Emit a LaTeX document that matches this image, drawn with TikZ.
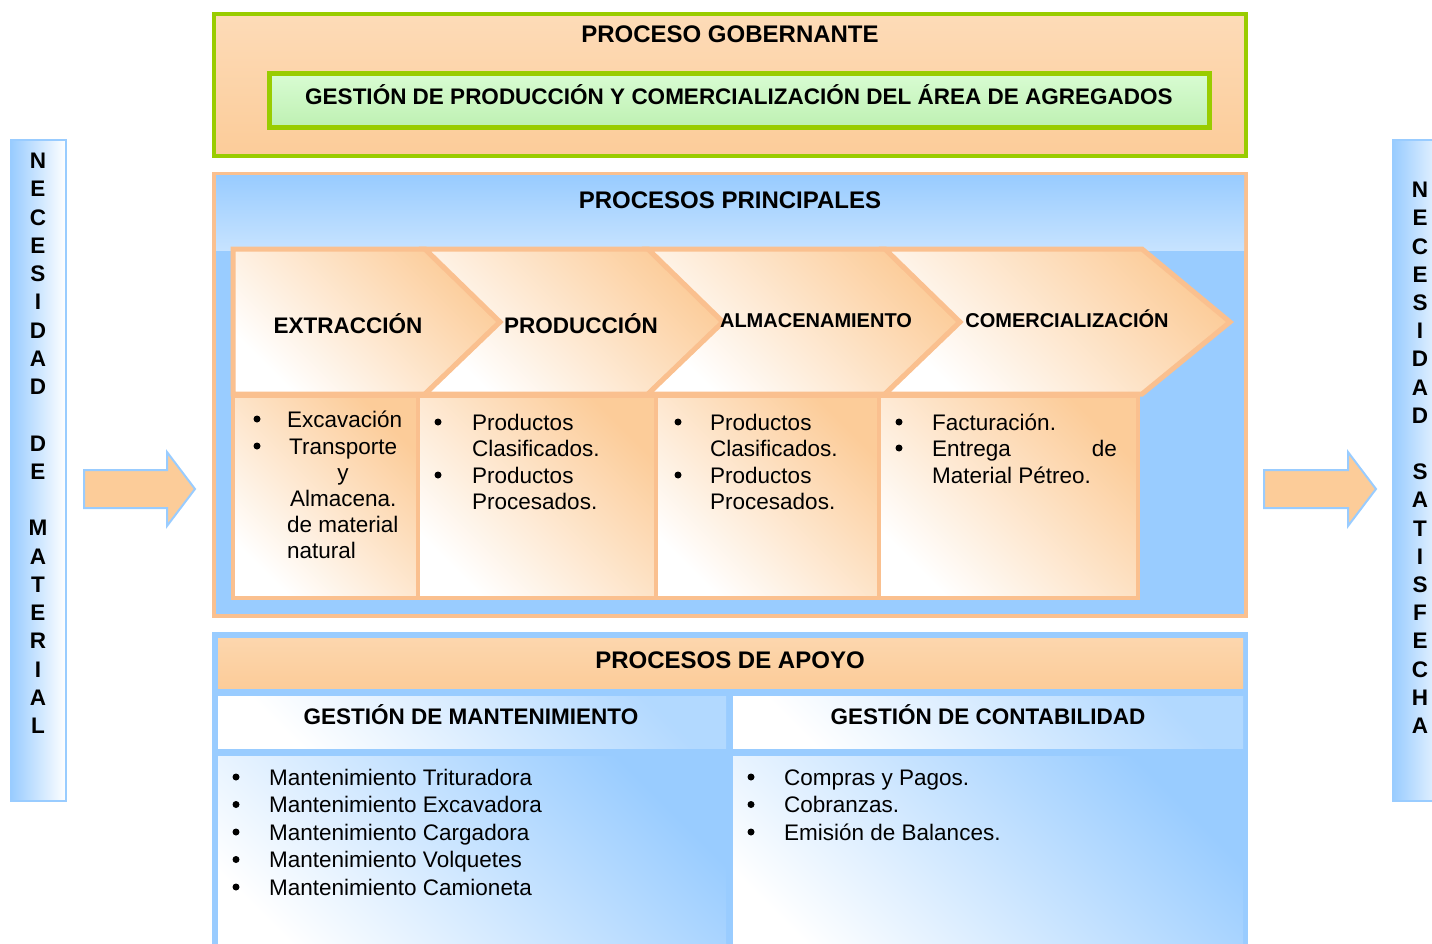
\documentclass[tikz,border=0pt]{standalone}
\usepackage{fontspec}
\setmainfont{Liberation Sans}
\usetikzlibrary{positioning}

\definecolor{naranja}{RGB}{252,204,153}
\definecolor{naranjaB}{RGB}{250,192,143}
\definecolor{celeste}{RGB}{153,204,255}
\definecolor{verde}{RGB}{153,204,0}
\definecolor{verdeA}{RGB}{216,252,210}
\definecolor{verdeB}{RGB}{190,240,178}

\begin{document}
\begin{tikzpicture}[x=1pt, y=-1pt, line join=miter,
    every node/.style={inner sep=0pt},
    cabecera/.style={font=\bfseries\fontsize{24}{28}\selectfont, anchor=base},
    subcab/.style={font=\bfseries\fontsize{22.5}{26}\selectfont, anchor=base},
    texto/.style={font=\fontsize{22.5}{27}\selectfont, anchor=base west},
    vineta/.style={circle, fill=black, minimum size=7pt},
    letra/.style={font=\bfseries\fontsize{22.5}{26}\selectfont},
    naranjado/.style={top color=naranja, bottom color=white, shading angle=-45},
    azulado/.style={top color=celeste, bottom color=white, shading angle=-45},
    flecha/.style={fill=naranja, draw=celeste, line width=2pt}]

  \useasboundingbox (0,0) rectangle (1432,944);
  \clip (0,0) rectangle (1432,944);

  \begin{scope}
    \draw[draw=verde, line width=4pt, top color=naranja!70!white, bottom color=naranja] (214,14) rectangle (1246,156);
    \node[cabecera] (gobernante) at (730,43) {PROCESO GOBERNANTE};
    \draw[draw=verde, line width=5pt, top color=verdeA, bottom color=verdeB] (269,74) rectangle (1209,128);
    \node[subcab] (gestion) at (739,105) {GESTIÓN DE PRODUCCIÓN Y COMERCIALIZACIÓN DEL ÁREA DE AGREGADOS};
  \end{scope}

  \begin{scope}
    \draw[draw=naranjaB, line width=4pt, fill=celeste] (214,174) rectangle (1246,616);
    \shade[top color=celeste, bottom color=celeste!55!white] (216,176) rectangle (1244,250);
    \node[cabecera] (principales) at (730,208) {PROCESOS PRINCIPALES};

    \draw[naranjado, draw=naranjaB, line width=5pt] (233,249) -- (425,249) -- (500,322) -- (425,394) -- (233,394) -- cycle;
    \draw[naranjado, draw=naranjaB, line width=5pt] (425,249) -- (648,249) -- (723,322) -- (648,394) -- (425,394) -- (500,322) -- cycle;
    \draw[naranjado, draw=naranjaB, line width=5pt] (648,249) -- (885,249) -- (960,322) -- (885,394) -- (648,394) -- (723,322) -- cycle;
    \draw[naranjado, draw=naranjaB, line width=5pt] (885,249) -- (1142,249) -- (1230,322) -- (1142,394) -- (885,394) -- (960,322) -- cycle;
    \node[subcab] (extraccion) at (348,333) {EXTRACCIÓN};
    \node[subcab] (produccion) at (581,333) {PRODUCCIÓN};
    \node[subcab, font=\bfseries\fontsize{20}{24}\selectfont] (almacen) at (816,327) {ALMACENAMIENTO};
    \node[subcab, font=\bfseries\fontsize{20}{24}\selectfont] (comercial) at (1067,327) {COMERCIALIZACIÓN};

    \draw[naranjado, draw=naranjaB, line width=4pt] (233,396) rectangle (418,598);
    \draw[naranjado, draw=naranjaB, line width=4pt] (418,396) rectangle (656,598);
    \draw[naranjado, draw=naranjaB, line width=4pt] (656,396) rectangle (879,598);
    \draw[naranjado, draw=naranjaB, line width=4pt] (879,396) rectangle (1138,598);

    \node[vineta] (ve1) at (257,419) {};
    \node[vineta] (ve2) at (257,446) {};
    \node[texto] (excavacion) at (287,427) {Excavación};
    \node[texto] (transporte) at (289,454) {Transporte};
    \node[texto, anchor=base] (ye) at (343,480) {y};
    \node[texto] (almacena) at (290,506) {Almacena.};
    \node[texto] (dematerial) at (287,532) {de material};
    \node[texto] (natural) at (287,558) {natural};

    \node[vineta] (vp1) at (438,422) {};
    \node[vineta] (vp2) at (438,475) {};
    \node[texto] (prod1) at (472,430) {Productos};
    \node[texto] (clas1) at (472,456) {Clasificados.};
    \node[texto] (prod2) at (472,483) {Productos};
    \node[texto] (proc1) at (472,509) {Procesados.};

    \node[vineta] (va1) at (678,422) {};
    \node[vineta] (va2) at (678,475) {};
    \node[texto] (prod3) at (710,430) {Productos};
    \node[texto] (clas2) at (710,456) {Clasificados.};
    \node[texto] (prod4) at (710,483) {Productos};
    \node[texto] (proc2) at (710,509) {Procesados.};

    \node[vineta] (vc1) at (899,422) {};
    \node[vineta] (vc2) at (899,448) {};
    \node[texto] (factura) at (932,430) {Facturación.};
    \node[texto] (entrega) at (932,456) {Entrega};
    \node[texto, anchor=base east] (de) at (1117,456) {de};
    \node[texto] (petreo) at (932,483) {Material Pétreo.};
  \end{scope}

  \begin{scope}
    \draw[draw=celeste, line width=4pt, fill=celeste] (214,634) rectangle (1246,980);
    \draw[draw=none, top color=naranja!80!white, bottom color=naranja] (218,638) rectangle (1243,688);
    \node[cabecera] (apoyo) at (730,668) {PROCESOS DE APOYO};
    \draw[draw=none, top color=celeste!75!white, bottom color=white, shading angle=-45] (218,696) rectangle (726,748);
    \draw[draw=none, top color=celeste!75!white, bottom color=white, shading angle=-45] (733,696) rectangle (1243,748);
    \node[subcab] (mantenimiento) at (471,724) {GESTIÓN DE MANTENIMIENTO};
    \node[subcab] (contabilidad) at (988,724) {GESTIÓN DE CONTABILIDAD};
    \draw[draw=none, azulado] (218,756) rectangle (726,980);
    \draw[draw=none, azulado] (733,756) rectangle (1243,980);

    \foreach \t [count=\i] in {Mantenimiento Trituradora, Mantenimiento Excavadora, Mantenimiento Cargadora, Mantenimiento Volquetes, Mantenimiento Camioneta} {
      \node[vineta] (vm\i) at (236,{777+27.5*(\i-1)}) {};
      \node[texto] (mant\i) at (269,{785+27.5*(\i-1)}) {\t};
    }
    \foreach \t [count=\i] in {Compras y Pagos., Cobranzas., Emisión de Balances.} {
      \node[vineta] (vk\i) at (751,{777+27.5*(\i-1)}) {};
      \node[texto] (cont\i) at (784,{785+27.5*(\i-1)}) {\t};
    }
  \end{scope}

  \draw[draw=celeste, line width=2pt, left color=celeste, right color=white] (11,140) rectangle (66,801);
  \foreach \l [count=\i] in {N,E,C,E,S,I,D,A,D,{},D,E,{},M,A,T,E,R,I,A,L}
    \node[letra] (izq\i) at (38,{161+28.25*(\i-1)}) {\l};

  \draw[draw=celeste, line width=2pt, left color=celeste, right color=white] (1393,140) rectangle (1452,801);
  \foreach \l [count=\i] in {N,E,C,E,S,I,D,A,D,{},S,A,T,I,S,F,E,C,H,A}
    \node[letra] (der\i) at (1420,{190+28.2*(\i-1)}) {\l};

  \draw[flecha] (84,470) -- (167,470) -- (167,452) -- (195,489) -- (167,526) -- (167,508) -- (84,508) -- cycle;
  \draw[flecha] (1264,470) -- (1348,470) -- (1348,452) -- (1376,489) -- (1348,526) -- (1348,508) -- (1264,508) -- cycle;
\end{tikzpicture}
\end{document}
